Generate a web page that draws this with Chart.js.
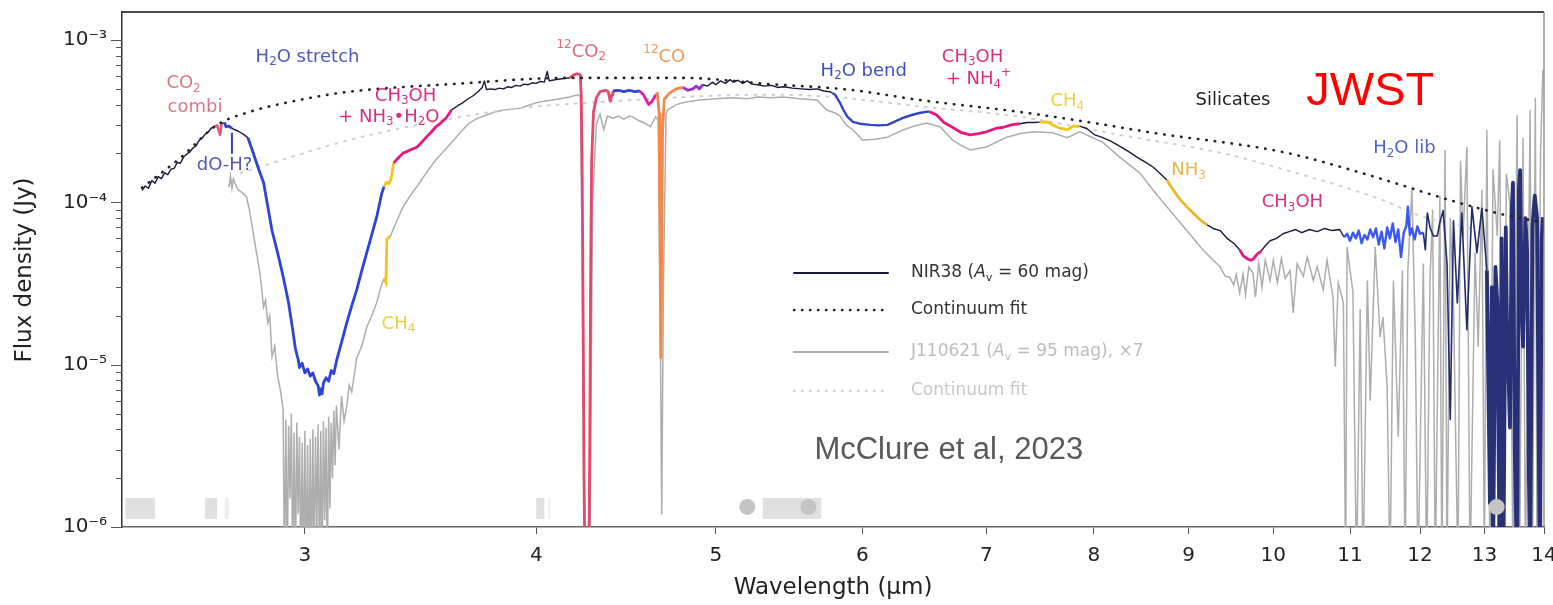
<!DOCTYPE html>
<html><head><meta charset="utf-8">
<script src="https://cdn.jsdelivr.net/npm/chart.js@4.4.1/dist/chart.umd.min.js"></script>
<style>html,body{margin:0;padding:0;background:#fff;}#wrap{width:1553px;height:605px;}</style>
</head><body><div id="wrap"><canvas id="c" width="1553" height="605"></canvas></div>
<script>
// ---------------- DATA ----------------
const X_TICKS = [3,4,5,6,7,8,9,10,11,12,13,14];
const Y_MAJOR = [1e-6,1e-5,1e-4,1e-3];
const Y_TICK_LABELS = ['10⁻⁶','10⁻⁵','10⁻⁴','10⁻³'];
const X_RANGE = [2.39, 14];
const Y_RANGE = [1e-6, 1.487e-3];

// NIR38 spectrum [wavelength (µm), flux (Jy)]
const NIR38 = [
[2.45,1.18e-4],[2.46,1.26e-4],[2.47,1.22e-4],[2.48,1.36e-4],[2.49,1.31e-4],[2.50,1.44e-4],[2.51,1.40e-4],[2.52,1.52e-4],
[2.53,1.48e-4],[2.54,1.60e-4],[2.55,1.62e-4],[2.56,1.76e-4],[2.57,1.74e-4],[2.58,1.90e-4],[2.59,1.98e-4],[2.60,2.04e-4],
[2.61,2.16e-4],[2.62,2.22e-4],[2.63,2.40e-4],[2.64,2.48e-4],[2.65,2.62e-4],[2.66,2.70e-4],[2.67,2.86e-4],[2.68,2.92e-4],
[2.69,2.98e-4],[2.70,2.60e-4],[2.705,3.05e-4],[2.715,3.10e-4],[2.72,2.92e-4],[2.73,2.95e-4],[2.74,2.85e-4],[2.76,2.75e-4],
[2.78,2.62e-4],[2.795,2.50e-4],[2.81,2.10e-4],[2.83,1.65e-4],[2.85,1.32e-4],[2.865,9.4e-5],[2.88,6.7e-5],[2.90,4.9e-5],
[2.92,3.5e-5],[2.94,2.4e-5],[2.955,1.64e-5],[2.965,1.25e-5],[2.975,1.08e-5],[2.98,9.6e-6],[2.99,1.02e-5],[3.00,8.9e-6],
[3.01,9.4e-6],[3.02,8.5e-6],[3.03,8.9e-6],[3.04,7.9e-6],[3.05,7.4e-6],[3.055,6.5e-6],[3.06,7.1e-6],[3.065,6.6e-6],
[3.07,7.7e-6],[3.08,8.3e-6],[3.09,7.9e-6],[3.10,9.2e-6],[3.11,8.8e-6],[3.12,1.05e-5],[3.14,1.37e-5],[3.16,1.8e-5],
[3.18,2.3e-5],[3.20,2.9e-5],[3.22,3.8e-5],[3.24,4.9e-5],[3.26,6.3e-5],[3.28,8.1e-5],[3.30,1.12e-4],[3.31,1.25e-4],
[3.32,1.33e-4],[3.33,1.30e-4],[3.34,1.40e-4],[3.35,1.75e-4],[3.37,1.88e-4],[3.39,2.01e-4],[3.42,2.10e-4],[3.45,2.19e-4],
[3.47,2.35e-4],[3.49,2.53e-4],[3.51,2.70e-4],[3.53,2.91e-4],[3.555,3.10e-4],[3.58,3.36e-4],[3.60,3.71e-4],[3.63,3.95e-4],
[3.65,4.10e-4],[3.67,4.30e-4],[3.70,4.55e-4],[3.72,4.80e-4],[3.74,5.10e-4],[3.75,5.60e-4],[3.76,4.95e-4],[3.78,5.00e-4],
[3.80,4.95e-4],[3.82,5.05e-4],[3.84,5.00e-4],[3.86,5.15e-4],[3.88,5.10e-4],[3.90,5.25e-4],[3.92,5.20e-4],[3.94,5.35e-4],
[3.96,5.30e-4],[3.98,5.45e-4],[4.00,5.40e-4],[4.02,5.55e-4],[4.04,5.50e-4],[4.055,6.40e-4],[4.065,5.60e-4],[4.08,5.65e-4],
[4.10,5.70e-4],[4.12,5.75e-4],[4.15,5.80e-4],[4.17,5.85e-4],[4.19,6.10e-4],[4.21,6.20e-4],[4.225,6.10e-4],[4.23,4.5e-4],
[4.235,1.5e-4],[4.24,2e-5],[4.245,2e-6],[4.25,5e-7],[4.27,5e-7],[4.275,3e-6],[4.28,4e-5],[4.285,1.8e-4],
[4.295,3.6e-4],[4.31,4.4e-4],[4.33,4.8e-4],[4.36,4.9e-4],[4.375,4.8e-4],[4.385,4.2e-4],[4.395,4.6e-4],[4.40,4.85e-4],
[4.43,4.90e-4],[4.46,4.80e-4],[4.49,4.90e-4],[4.52,4.80e-4],[4.55,4.85e-4],[4.57,4.60e-4],[4.60,4.00e-4],[4.62,4.20e-4],
[4.64,4.60e-4],[4.65,4.70e-4],[4.66,3.5e-4],[4.665,6e-5],[4.67,1.1e-5],[4.675,5e-5],[4.68,2.8e-4],[4.69,4.3e-4],
[4.72,4.70e-4],[4.76,5.00e-4],[4.80,5.10e-4],[4.83,4.90e-4],[4.86,5.00e-4],[4.88,5.20e-4],[4.90,5.00e-4],[4.92,5.30e-4],
[4.95,5.20e-4],[4.98,5.50e-4],[5.00,5.30e-4],[5.03,5.60e-4],[5.06,5.40e-4],[5.09,5.70e-4],[5.11,5.50e-4],[5.14,5.65e-4],
[5.17,5.40e-4],[5.20,5.60e-4],[5.23,5.35e-4],[5.27,5.30e-4],[5.31,5.20e-4],[5.36,5.25e-4],[5.40,5.10e-4],[5.44,5.15e-4],
[5.50,5.05e-4],[5.56,5.00e-4],[5.62,4.95e-4],[5.67,5.00e-4],[5.72,4.85e-4],[5.76,4.80e-4],[5.78,4.72e-4],[5.80,4.60e-4],
[5.835,4.10e-4],[5.86,3.70e-4],[5.89,3.36e-4],[5.93,3.13e-4],[5.98,3.05e-4],[6.06,3.00e-4],[6.12,2.98e-4],[6.19,3.00e-4],
[6.25,3.15e-4],[6.31,3.31e-4],[6.38,3.45e-4],[6.44,3.55e-4],[6.52,3.63e-4],[6.58,3.45e-4],[6.64,3.10e-4],[6.71,2.90e-4],
[6.78,2.70e-4],[6.86,2.60e-4],[6.93,2.65e-4],[7.00,2.72e-4],[7.08,2.85e-4],[7.15,2.90e-4],[7.22,3.00e-4],[7.30,3.05e-4],
[7.36,3.10e-4],[7.42,3.10e-4],[7.48,3.12e-4],[7.55,3.13e-4],[7.62,2.95e-4],[7.68,2.85e-4],[7.74,2.80e-4],[7.80,2.95e-4],
[7.86,2.95e-4],[7.93,2.85e-4],[8.01,2.60e-4],[8.09,2.50e-4],[8.17,2.38e-4],[8.26,2.22e-4],[8.35,2.06e-4],[8.44,1.90e-4],
[8.52,1.78e-4],[8.61,1.65e-4],[8.69,1.50e-4],[8.76,1.37e-4],[8.83,1.19e-4],[8.90,1.05e-4],[8.98,9.4e-5],[9.06,8.5e-5],
[9.13,7.8e-5],[9.21,7.26e-5],[9.28,6.9e-5],[9.36,6.7e-5],[9.44,6.0e-5],[9.52,5.6e-5],[9.59,5.1e-5],[9.63,4.7e-5],
[9.68,4.5e-5],[9.72,4.4e-5],[9.75,4.45e-5],[9.80,4.8e-5],[9.85,5.0e-5],[9.90,5.4e-5],[9.96,5.8e-5],[10.04,6.0e-5],
[10.12,6.4e-5],[10.20,6.6e-5],[10.28,6.8e-5],[10.36,6.5e-5],[10.46,6.8e-5],[10.56,6.6e-5],[10.66,6.9e-5],[10.76,6.7e-5],
[10.86,6.8e-5],[10.92,6.1e-5],[10.96,6.4e-5],[11.00,5.8e-5],[11.04,6.5e-5],[11.08,6.0e-5],[11.12,6.7e-5],[11.16,5.6e-5],
[11.20,6.3e-5],[11.24,5.9e-5],[11.28,6.8e-5],[11.32,6.1e-5],[11.36,6.9e-5],[11.40,5.5e-5],[11.44,6.6e-5],[11.48,5.2e-5],
[11.52,7.0e-5],[11.56,6.0e-5],[11.60,7.4e-5],[11.64,5.7e-5],[11.68,6.8e-5],[11.72,4.6e-5],[11.76,6.5e-5],[11.80,7.2e-5],
[11.82,9.4e-5],[11.85,6.3e-5],[11.88,6.9e-5],[11.92,5.9e-5],[11.96,7.1e-5],[12.00,6.4e-5],[12.05,6.5e-5],[12.08,5.1e-5],
[12.11,8.6e-5],[12.15,7.0e-5],[12.20,6.2e-5],[12.26,6.2e-5],[12.30,7.5e-5],[12.35,8.9e-5],[12.41,4.2e-5],[12.46,4.6e-6],
[12.51,7.7e-5],[12.57,2.4e-5],[12.64,8.6e-5],[12.72,1.64e-5],[12.80,9.4e-5],[12.88,4.9e-5],[12.96,9.2e-5],[13.04,3.8e-5],
[13.09,1.4e-6],[13.12,3.0e-5],[13.14,5e-7],[13.18,4.0e-5],[13.21,2.4e-5],[13.25,5e-7],[13.28,6.0e-5],[13.31,5e-7],
[13.35,7.0e-5],[13.37,1.8e-5],[13.42,4.1e-6],[13.45,9.0e-5],[13.47,1.32e-4],[13.50,3e-6],[13.54,5e-7],[13.57,1.2e-4],
[13.59,1.58e-4],[13.62,2.0e-5],[13.64,1.29e-5],[13.68,8.0e-5],[13.71,4.9e-5],[13.74,2e-6],[13.76,5e-7],[13.80,7.0e-5],
[13.84,1.1e-4],[13.88,8.1e-5],[13.91,3e-6],[13.93,5e-7],[13.96,6.0e-5],[13.98,8.1e-5]
];
// ice feature bands on NIR38 [feature, from µm, to µm]
const NIR38_BANDS = [
['co2combi',2.685,2.71],['h2o',2.715,2.745],['h2o',2.795,3.31],['ch4',3.31,3.345],['ch3oh',3.345,3.60],
['co2',4.17,4.40],['h2o',4.40,4.56],['mag',4.56,4.645],['co',4.645,4.81],['purple',4.81,4.925],
['h2oBend',5.79,6.53],['ch3oh',6.53,7.31],['ch4',7.50,7.88],['nh3',8.78,9.22],['ch3oh',9.60,9.86],
['h2oLib',10.94,12.06],['navy',12.06,13.05],['navyThick',13.05,14.1]
];
// J110621 spectrum (x7) [wavelength (µm), flux (Jy)]
const J110621 = [
[2.73,1.24e-4],[2.735,1.45e-4],[2.74,1.22e-4],[2.745,1.40e-4],[2.75,1.32e-4],[2.76,1.20e-4],[2.775,1.15e-4],[2.79,1.08e-4],
[2.80,9.0e-5],[2.81,7.05e-5],[2.82,5.5e-5],[2.837,3.67e-5],[2.85,2.27e-5],[2.857,2.5e-5],[2.865,1.81e-5],[2.872,2.0e-5],
[2.88,1.12e-5],[2.89,1.3e-5],[2.90,8.5e-6],[2.91,7.0e-6],[2.92,5.3e-6],[2.925,5e-7],[2.93,4.6e-6],[2.935,5e-7],
[2.94,4.2e-6],[2.945,1.5e-6],[2.95,5.0e-6],[2.955,5e-7],[2.96,3.8e-6],[2.965,5e-7],[2.97,4.4e-6],[2.975,1.2e-6],
[2.98,3.6e-6],[2.985,5e-7],[2.99,3.3e-6],[2.995,5e-7],[3.00,3.9e-6],[3.005,5e-7],[3.01,3.2e-6],[3.015,5e-7],
[3.02,3.5e-6],[3.025,5e-7],[3.03,4.0e-6],[3.035,5e-7],[3.04,3.6e-6],[3.045,1.0e-6],[3.05,4.3e-6],[3.055,5e-7],
[3.06,3.9e-6],[3.065,5e-7],[3.07,4.5e-6],[3.075,1.1e-6],[3.08,4.1e-6],[3.085,5e-7],[3.09,4.8e-6],[3.095,1.3e-6],
[3.10,4.4e-6],[3.105,2.0e-6],[3.11,5.2e-6],[3.115,2.4e-6],[3.12,5.6e-6],[3.13,3.0e-6],[3.14,6.4e-6],[3.15,4.5e-6],
[3.16,5.5e-6],[3.17,7.5e-6],[3.18,6.8e-6],[3.20,1.1e-5],[3.22,1.3e-5],[3.24,1.7e-5],[3.26,2.0e-5],[3.28,2.4e-5],
[3.30,3.1e-5],[3.31,3.4e-5],[3.318,3.2e-5],[3.322,5.9e-5],[3.33,6.1e-5],[3.335,6.12e-5],[3.36,7.5e-5],[3.39,9.4e-5],
[3.42,1.10e-4],[3.46,1.32e-4],[3.50,1.60e-4],[3.53,1.82e-4],[3.57,2.10e-4],[3.61,2.42e-4],[3.64,2.70e-4],[3.68,3.08e-4],
[3.72,3.30e-4],[3.76,3.45e-4],[3.80,3.60e-4],[3.84,3.70e-4],[3.88,3.75e-4],[3.92,3.80e-4],[3.96,3.95e-4],[4.00,4.10e-4],
[4.04,4.20e-4],[4.08,4.27e-4],[4.12,4.35e-4],[4.17,4.46e-4],[4.21,4.60e-4],[4.225,4.5e-4],[4.235,5e-5],[4.245,5e-7],
[4.275,5e-7],[4.29,1.0e-4],[4.31,3.0e-4],[4.33,3.5e-4],[4.35,2.8e-4],[4.37,3.4e-4],[4.40,3.3e-4],[4.43,3.4e-4],
[4.46,3.25e-4],[4.49,3.4e-4],[4.51,3.36e-4],[4.54,3.2e-4],[4.57,3.1e-4],[4.61,2.93e-4],[4.64,3.36e-4],[4.655,3.2e-4],
[4.665,3e-5],[4.675,1.2e-6],[4.685,3e-5],[4.70,3.5e-4],[4.71,3.7e-4],[4.76,4.0e-4],[4.80,4.1e-4],[4.85,4.2e-4],
[4.90,4.27e-4],[5.00,4.35e-4],[5.11,4.40e-4],[5.20,4.35e-4],[5.27,4.46e-4],[5.35,4.40e-4],[5.44,4.46e-4],[5.55,4.35e-4],
[5.67,4.27e-4],[5.74,3.7e-4],[5.80,3.55e-4],[5.835,3.4e-4],[5.88,3.0e-4],[5.93,2.79e-4],[6.00,2.42e-4],[6.10,2.45e-4],
[6.19,2.52e-4],[6.31,2.79e-4],[6.40,2.95e-4],[6.50,3.08e-4],[6.61,2.91e-4],[6.71,2.42e-4],[6.78,2.25e-4],[6.86,2.10e-4],
[7.00,2.19e-4],[7.18,2.52e-4],[7.30,2.65e-4],[7.42,2.72e-4],[7.60,2.68e-4],[7.74,2.50e-4],[7.86,2.72e-4],[8.09,2.34e-4],
[8.26,1.90e-4],[8.47,1.52e-4],[8.61,1.19e-4],[8.76,9.4e-5],[8.98,6.7e-5],[9.16,5.1e-5],[9.36,4.0e-5],[9.42,3.5e-5],
[9.47,3.47e-5],[9.52,3.1e-5],[9.55,3.6e-5],[9.59,2.77e-5],[9.63,3.6e-5],[9.66,2.7e-5],[9.70,4.0e-5],[9.75,3.67e-5],
[9.78,2.6e-5],[9.82,4.2e-5],[9.86,3.0e-5],[9.90,4.4e-5],[9.96,3.3e-5],[10.00,4.4e-5],[10.05,3.2e-5],[10.10,4.5e-5],
[10.15,3.4e-5],[10.21,3.8e-5],[10.25,2.08e-5],[10.30,4.2e-5],[10.38,3.5e-5],[10.43,4.6e-5],[10.51,3.3e-5],[10.56,4.0e-5],
[10.64,2.9e-5],[10.69,4.4e-5],[10.77,2.6e-5],[10.80,9.7e-6],[10.84,3.2e-5],[10.91,2.4e-5],[10.94,5e-7],[10.96,5.3e-5],
[11.04,2.8e-5],[11.09,5e-7],[11.14,2.2e-5],[11.18,5e-7],[11.24,3.3e-5],[11.28,6.0e-6],[11.35,5.3e-5],[11.42,1.48e-5],
[11.46,1.97e-5],[11.52,7.3e-6],[11.56,5e-7],[11.61,3.3e-5],[11.68,3.6e-6],[11.74,3.8e-5],[11.78,5e-7],[11.82,3.8e-5],
[11.88,1.19e-4],[11.93,1.48e-5],[11.97,5e-7],[12.05,4.2e-5],[12.10,5e-7],[12.15,3.3e-5],[12.19,9.0e-5],[12.23,5e-7],
[12.30,1.1e-4],[12.33,5e-7],[12.38,2.1e-4],[12.41,5e-7],[12.46,8.0e-5],[12.51,2.4e-5],[12.58,5e-7],[12.62,1.8e-4],
[12.66,6.2e-5],[12.72,2.2e-4],[12.77,5e-7],[12.85,4.9e-5],[12.90,1.29e-5],[12.96,1.19e-4],[13.00,5e-7],[13.04,2.8e-4],
[13.09,5e-7],[13.14,1.6e-4],[13.21,6.2e-5],[13.25,2.4e-4],[13.31,5e-7],[13.36,1.5e-4],[13.42,9.9e-5],[13.47,5e-7],
[13.54,3.45e-4],[13.58,5e-7],[13.64,2.5e-4],[13.68,5e-7],[13.76,3.7e-4],[13.80,5e-7],[13.85,4.4e-4],[13.88,5e-7],
[13.94,2.0e-4],[13.98,6.5e-4]
];
const J110621_BANDS = [['ch4',3.31,3.335]];
// continuum fits
const NIR38_CONT = [
[2.45,1.23e-4],[2.57,1.88e-4],[2.69,3.0e-4],[2.80,3.6e-4],[2.98,4.27e-4],[3.17,4.8e-4],[3.61,5.36e-4],[4.17,5.84e-4],
[4.80,5.84e-4],[5.33,5.36e-4],[5.91,4.93e-4],[6.44,4.27e-4],[7.30,3.6e-4],[7.93,3.13e-4],[8.61,2.68e-4],[10.12,2.04e-4],
[11.24,1.48e-4],[12.46,1.03e-4],[13.31,8.4e-5],[14.0,7.5e-5]
];
const J110621_CONT = [
[2.77,1.52e-4],[3.17,2.42e-4],[3.61,3.3e-4],[3.92,3.8e-4],[4.26,4.1e-4],[5.33,4.6e-4],[5.78,4.46e-4],[6.44,3.9e-4],
[7.30,3.36e-4],[8.26,2.6e-4],[9.36,2.02e-4],[10.12,1.6e-4],[11.46,1.03e-4],[11.95,8.4e-5],[12.77,6.95e-5]
];
// spectral gap markers along the bottom [from µm, to µm, shade]
const GAP_BOXES = [[2.40,2.49,'mid'],[2.65,2.69,'mid'],[2.715,2.73,'light'],[4.00,4.04,'mid'],[4.06,4.07,'light'],[5.30,5.70,'mid']];
const GAP_DOTS = [5.20,5.61,13.2];
const GAP_FLUX = [1.12e-6,1.51e-6,1.33e-6];
// feature labels: text, anchor wavelength, anchor flux, style key
const ICE_LABELS = [
['H_2O stretch',3.01,7.87e-4,'h2o'],['CO_2',2.58,5.4e-4,'co2combi'],['combi',2.617,3.87e-4,'co2combi'],
['dO-H?',2.715,1.68e-4,'h2o'],['CH_3OH',3.40,4.52e-4,'ch3oh'],['+ NH_3•H_2O',3.33,3.36e-4,'ch3oh'],
['CH_4',3.37,1.78e-5,'ch4'],['^{12}CO_2',4.23,8.45e-4,'co2'],['^{12}CO',4.69,7.87e-4,'co'],
['H_2O bend',6.01,6.45e-4,'h2oBend'],['CH_3OH',6.88,7.87e-4,'ch3oh'],['+ NH_4^+',6.93,5.7e-4,'ch3oh'],
['CH_4',7.74,4.2e-4,'ch4'],['Silicates',9.51,4.27e-4,'silicates'],['NH_3',9.0,1.58e-4,'nh3'],
['CH_3OH',10.24,1.0e-4,'ch3oh'],['H_2O lib',11.77,2.16e-4,'h2oLib'],
['JWST',11.28,4.79e-4,'jwst'],['McClure et al, 2023',6.68,2.98e-6,'credit']
];
const DOH_MARK = [2.74,2.68e-4,1.99e-4];
const LEGEND_LABELS = [['NIR38 (~A~_v = 60 mag)','nirLine'],['Continuum fit','nirCont'],['J110621 (~A~_v = 95 mag), ×7','jLine'],['Continuum fit','jCont']];
const X_TITLE = 'Wavelength (µm)';
const Y_TITLE = 'Flux density (Jy)';

// ---------------- STYLE ----------------
const FONT = "'DejaVu Sans', sans-serif";
const ARIAL = "'Liberation Sans', Arial, sans-serif";
const STYLE = {
  base:{color:'#16193a',width:1.4},
  grey:{color:'#adadad',width:1.5},
  co2combi:{color:'#e2577a',width:2.6,text:'#d9788a'},
  h2o:{color:'#2e44d6',width:2.8,text:'#5058b4'},
  ch4:{color:'#f2c619',width:2.8,text:'#e9cf45'},
  ch3oh:{color:'#e8177e',width:2.8,text:'#dc2d80'},
  co2:{color:'#e4486c',width:2.8,text:'#e26a7c'},
  mag:{color:'#de20a4',width:2.8},
  co:{color:'#f2884a',width:2.8,text:'#f0995f'},
  purple:{color:'#9b2fd2',width:2.8},
  h2oBend:{color:'#3445c4',width:2.4,text:'#4050bd'},
  nh3:{color:'#ebb52c',width:2.8,text:'#e6b845'},
  h2oLib:{color:'#3c58ee',width:2.4,text:'#5262c2'},
  navy:{color:'#222a6a',width:1.6},
  navyThick:{color:'#283078',width:3.8},
  silicates:{text:'#222222'},
  jwst:{text:'#ff0000',size:47,family:ARIAL},
  credit:{text:'#595959',size:31,family:ARIAL},
  nirLine:{color:'#16193a',text:'#333333'},
  nirCont:{color:'#222222',text:'#333333'},
  jLine:{color:'#adadad',text:'#bdbdbd'},
  jCont:{color:'#cfcfcf',text:'#c8c8c8'},
  mid:'#e0e0e0', light:'#eeeeee', dot:'#c4c4c4'
};

function bandAt(bands, w){ for (const b of bands) if (w >= b[1] && w < b[2]) return b[0]; return null; }
function segStyle(bands, baseKey, prop){
  return c => { const w = (c.p0.parsed.x + c.p1.parsed.x)/2; const k = bandAt(bands, w); return (k ? STYLE[k] : STYLE[baseKey])[prop]; };
}
const toXY = arr => arr.map(p => ({x:p[0], y:p[1]}));

// rich text: _x subscript, ^x superscript, ~x~ italic
function drawRich(ctx, text, x, y, o){
  const size = o.size, fam = o.family || FONT;
  const re = /~([^~]*)~|([_^])\{([^}]*)\}|([_^])(.)|([^_^~]+)/g;
  const parts = []; let m;
  while ((m = re.exec(text))) {
    if (m[1] !== undefined) parts.push({t:m[1], k:'i'});
    else if (m[2]) parts.push({t:m[3], k:m[2]});
    else if (m[4]) parts.push({t:m[5], k:m[4]});
    else parts.push({t:m[6], k:''});
  }
  let w = 0;
  parts.forEach(p => {
    const s = (p.k === '_' || p.k === '^') ? size*0.66 : size;
    p.font = (p.k === 'i' ? 'italic ' : '') + s + 'px ' + fam;
    ctx.font = p.font; p.w = ctx.measureText(p.t).width; w += p.w;
  });
  let cx = o.align === 'center' ? x - w/2 : (o.align === 'right' ? x - w : x);
  ctx.fillStyle = o.color; ctx.textBaseline = 'middle'; ctx.textAlign = 'left';
  parts.forEach(p => {
    const dy = p.k === '_' ? size*0.3 : (p.k === '^' ? -size*0.36 : 0);
    ctx.font = p.font; ctx.fillText(p.t, cx, y + dy); cx += p.w;
  });
}

const overlay = {
  id:'overlay',
  beforeDatasetsDraw(chart){
    const {ctx, scales:{x, y}} = chart;
    ctx.save();
    const yb = y.getPixelForValue(GAP_FLUX[0]), yt = y.getPixelForValue(GAP_FLUX[1]);
    GAP_BOXES.forEach(b => {
      const x0 = x.getPixelForValue(b[0]), x1 = x.getPixelForValue(b[1]);
      ctx.fillStyle = STYLE[b[2]]; ctx.fillRect(x0, yt, x1 - x0, yb - yt);
    });
    ctx.restore();
  },
  afterDatasetsDraw(chart){
    const {ctx, chartArea:a, scales:{x, y}} = chart;
    ctx.save();
    // frame top & right
    ctx.strokeStyle = '#111'; ctx.lineWidth = 1.6;
    ctx.beginPath(); ctx.moveTo(a.left, a.top); ctx.lineTo(a.right, a.top); ctx.stroke();
    ctx.strokeStyle = '#777'; ctx.lineWidth = 1.2;
    ctx.beginPath(); ctx.moveTo(a.right, a.top); ctx.lineTo(a.right, a.bottom); ctx.stroke();
    // y tick marks
    ctx.strokeStyle = '#555'; ctx.lineWidth = 1;
    y.ticks.forEach(t => {
      const py = Math.round(y.getPixelForValue(t.value)) + 0.5;
      const len = Y_MAJOR.includes(t.value) ? 11 : 6;
      ctx.beginPath(); ctx.moveTo(a.left - len, py); ctx.lineTo(a.left, py); ctx.stroke();
    });
    // dO-H marker
    ctx.strokeStyle = STYLE.h2o.color; ctx.lineWidth = 2;
    const mx = x.getPixelForValue(DOH_MARK[0]);
    ctx.beginPath(); ctx.moveTo(mx, y.getPixelForValue(DOH_MARK[1])); ctx.lineTo(mx, y.getPixelForValue(DOH_MARK[2])); ctx.stroke();
    // labels
    ICE_LABELS.forEach(l => {
      const st = STYLE[l[3]];
      drawRich(ctx, l[0], x.getPixelForValue(l[1]), y.getPixelForValue(l[2]), {size: st.size || 18, family: st.family || FONT, color: st.text, align:'center'});
    });
    // legend
    const rows = [273, 310, 352, 391];
    LEGEND_LABELS.forEach((l, i) => {
      const st = STYLE[l[1]]; const ry = rows[i];
      ctx.strokeStyle = st.color; ctx.lineCap = 'round';
      if (l[1].endsWith('Cont')) { ctx.setLineDash([0.5, 7.5]); ctx.lineWidth = 2.4; } else { ctx.setLineDash([]); ctx.lineWidth = 2; }
      ctx.beginPath(); ctx.moveTo(794, ry); ctx.lineTo(888, ry); ctx.stroke();
      ctx.setLineDash([]);
      drawRich(ctx, l[0], 911, ry, {size:17, color: st.text, align:'left'});
    });
    // axis titles
    ctx.fillStyle = '#222'; ctx.font = '23px ' + FONT; ctx.textAlign = 'center'; ctx.textBaseline = 'middle';
    ctx.fillText(X_TITLE, 833, 588);
    ctx.translate(25, 270); ctx.rotate(-Math.PI/2); ctx.fillText(Y_TITLE, 0, 0);
    ctx.restore();
  }
};

new Chart(document.getElementById('c'), {
  type:'scatter',
  data:{ datasets:[
    { label:'gaps', data: GAP_DOTS.map(w => ({x:w, y:GAP_FLUX[2]})), pointRadius:8, pointBackgroundColor:STYLE.dot, pointBorderWidth:0, showLine:false, order:0 },
    { label:'NIR38 continuum', data: toXY(NIR38_CONT), showLine:true, pointRadius:0, borderColor:STYLE.nirCont.color, borderWidth:2.6,
      borderDash:[0.5,8], borderCapStyle:'round', cubicInterpolationMode:'monotone', order:1 },
    { label:'NIR38', data: toXY(NIR38), showLine:true, pointRadius:0, borderColor:STYLE.base.color, borderWidth:1.4, borderJoinStyle:'round',
      segment:{ borderColor: segStyle(NIR38_BANDS,'base','color'), borderWidth: segStyle(NIR38_BANDS,'base','width') }, order:2 },
    { label:'J110621 continuum', data: toXY(J110621_CONT), showLine:true, pointRadius:0, borderColor:STYLE.jCont.color, borderWidth:2,
      borderDash:[2,7], borderCapStyle:'round', cubicInterpolationMode:'monotone', order:3 },
    { label:'J110621', data: toXY(J110621), showLine:true, pointRadius:0, borderColor:STYLE.grey.color, borderWidth:1.5,
      segment:{ borderColor: segStyle(J110621_BANDS,'grey','color'), borderWidth: segStyle(J110621_BANDS,'grey','width') }, order:4 }
  ]},
  options:{
    responsive:false, animation:false, devicePixelRatio:1,
    layout:{ padding:{ left:0, right:9, top:12, bottom:0 } },
    plugins:{ legend:{display:false}, tooltip:{enabled:false} },
    scales:{
      x:{ type:'logarithmic', min:X_RANGE[0], max:X_RANGE[1],
        afterBuildTicks: s => { s.ticks = X_TICKS.map(v => ({value:v})); },
        afterFit: s => { s.height = 78; s.paddingLeft = 0; s.paddingRight = 0; },
        ticks:{ autoSkip:false, maxRotation:0, padding:10, color:'#222', font:{family:FONT, size:20}, callback: v => String(v) },
        grid:{ display:true, drawOnChartArea:false, drawTicks:true, tickLength:7, color:'#555' },
        border:{ display:true, color:'#666', width:1.5 }
      },
      y:{ type:'logarithmic', min:Y_RANGE[0], max:Y_RANGE[1],
        afterBuildTicks: s => {
          const t = [];
          Y_MAJOR.forEach(d => { for (let m = 1; m <= 9; m++) { const v = +(m*d).toPrecision(3); if (v <= Y_RANGE[1]) t.push({value:v}); } });
          s.ticks = t;
        },
        afterFit: s => { s.width = 122; s.paddingTop = 0; s.paddingBottom = 0; },
        ticks:{ autoSkip:false, padding:15, color:'#222', font:{family:FONT, size:20},
          callback: v => { const i = Y_MAJOR.indexOf(v); return i >= 0 ? Y_TICK_LABELS[i] : ''; } },
        grid:{ display:false, drawTicks:false },
        border:{ display:true, color:'#333', width:1.5 }
      }
    }
  },
  plugins:[overlay]
});
</script></body></html>
